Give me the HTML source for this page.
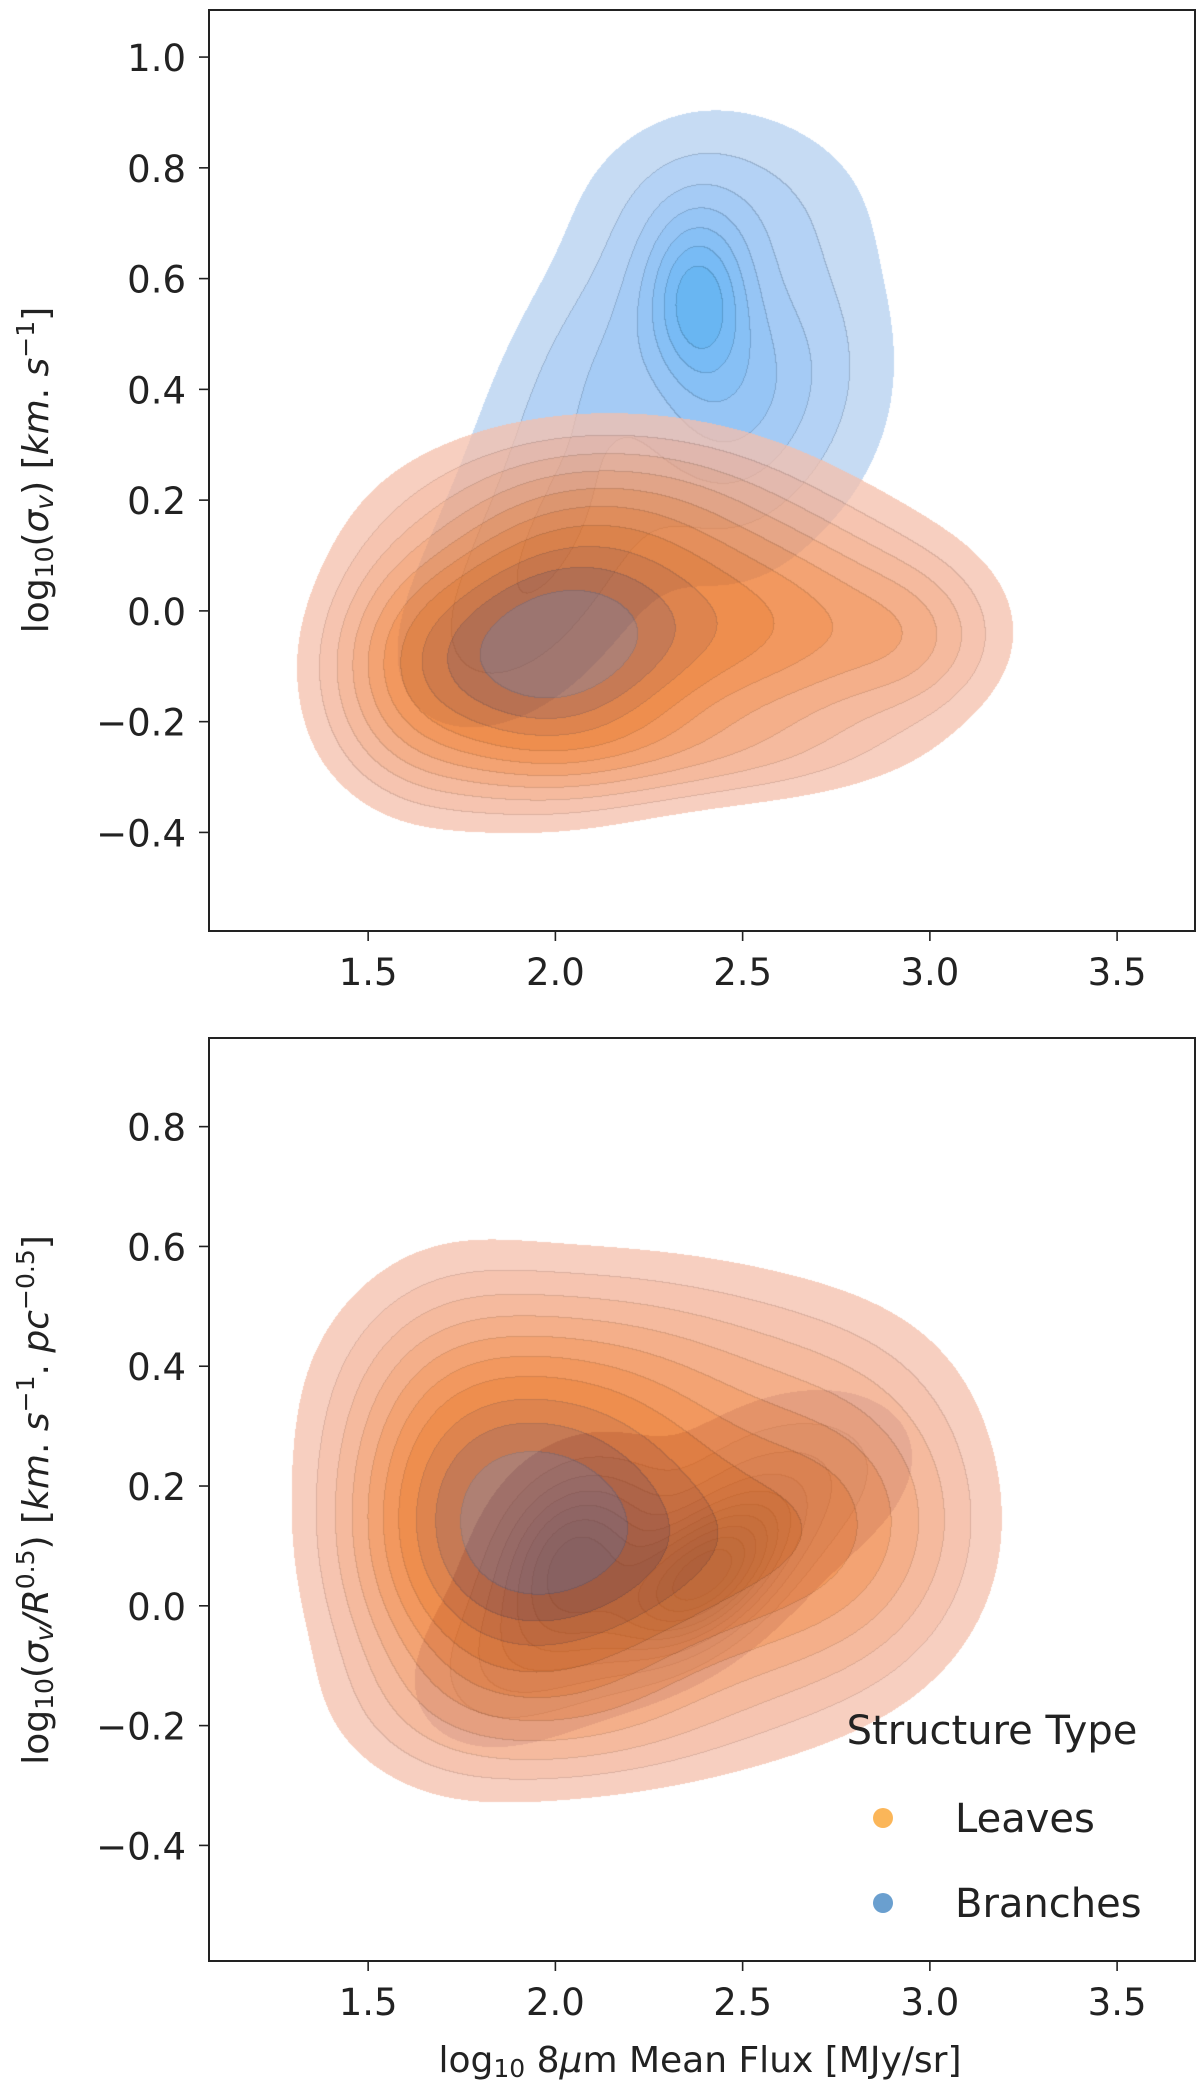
<!DOCTYPE html>
<html><head><meta charset="utf-8">
<style>
html,body{margin:0;padding:0;background:#fff;}
#wrap{position:relative;width:1200px;height:2089px;overflow:hidden;font-family:"DejaVu Sans","Liberation Sans",sans-serif;}
canvas{position:absolute;}
svg{position:absolute;left:0;top:0;}
</style></head>
<body>
<div id="wrap">
<canvas id="c1"></canvas>
<canvas id="c2"></canvas>
<svg id="ov" width="1200" height="2089"></svg>
</div>
<script>
// ---------- data ----------
const xTicks = [1.5, 2.0, 2.5, 3.0, 3.5];
const xTickLabels = ["1.5","2.0","2.5","3.0","3.5"];
const topYTicks = [1.0, 0.8, 0.6, 0.4, 0.2, 0.0, -0.2, -0.4];
const topYTickLabels = ["1.0","0.8","0.6","0.4","0.2","0.0","\u22120.2","\u22120.4"];
const botYTicks = [0.8, 0.6, 0.4, 0.2, 0.0, -0.2, -0.4];
const botYTickLabels = ["0.8","0.6","0.4","0.2","0.0","\u22120.2","\u22120.4"];
const seriesNames = ["Leaves","Branches"];

// KDE mixture components: [cx, cy, sx, sy, rho, weight]
const topLeaves = [[1.98,-0.07,0.25,0.13,0.1,1.0],[2.55,-0.03,0.3,0.12,0.0,0.4],[2.15,0.17,0.32,0.1,0.0,0.22],[2.95,-0.05,0.13,0.08,0.0,0.1],[1.62,-0.1,0.14,0.13,0,0.18],[2.3,-0.25,0.35,0.06,0,0.12]];
const topBranches = [[2.38,0.56,0.09,0.1,0.0,1.0],[2.45,0.38,0.15,0.16,0.0,0.6],[2.0,0.12,0.2,0.15,0.5,0.4],[2.45,0.72,0.2,0.1,0.0,0.3],[2.12,0.45,0.18,0.18,0.6,0.4],[2.65,0.45,0.15,0.15,0,0.3],[1.85,-0.05,0.16,0.1,0.3,0.15]];
const botLeaves = [[1.98,0.13,0.24,0.16,0.0,1.0],[1.72,0.15,0.19,0.2,0.0,0.4],[2.45,0.1,0.3,0.16,0.0,0.5],[2.2,0.38,0.4,0.12,0.0,0.2],[2.0,-0.17,0.3,0.08,0.0,0.15],[2.8,0.16,0.2,0.15,0,0.2]];
const botBranches = [[2.4,0.05,0.14,0.08,0.5,1.0],[2.05,0.08,0.14,0.1,0.2,0.7],[2.6,0.2,0.22,0.1,0.3,0.3],[1.85,-0.1,0.15,0.09,0.2,0.15],[2.1,-0.05,0.25,0.1,0.4,0.2]];

const leavesLevels = [0.04,0.08,0.13,0.19,0.26,0.34,0.43,0.54,0.66,0.8];
const topBranchLevels = [0.05,0.16,0.3,0.44,0.58,0.72,0.86];
const botBranchLevels = [0.07,0.15,0.24,0.33,0.42,0.51,0.6,0.7,0.8,0.9];

// ---------- styles ----------
const leafTargets = [[247,207,192],[246,196,176],[245,186,158],[244,175,138],[243,163,115],[242,152,95],[238,142,78],[222,132,78],[198,122,85],[175,128,115]];
const topBlue = [[198,219,243],[180,210,245],[165,203,245],[150,197,245],[135,192,245],[120,187,245],[105,182,242]];
const botBlue = [[200,198,218],[185,186,212],[170,176,208],[156,166,204],[142,158,200],[128,150,196],[116,143,192],[105,137,190],[96,132,188],[88,128,186]];

const panels = [
 {cv:'c1', left:209, top:10, w:986, h:921, x0:1.075, x1:3.708, y1:1.085, y0:-0.578,
  leaves:topLeaves, branches:topBranches, bl:topBranchLevels, bc:topBlue, la:0.75,
  yt:topYTicks, ytl:topYTickLabels},
 {cv:'c2', left:209, top:1038, w:986, h:923, x0:1.075, x1:3.708, y1:0.948, y0:-0.593,
  leaves:botLeaves, branches:botBranches, bl:botBranchLevels, bc:botBlue, la:0.72,
  yt:botYTicks, ytl:botYTickLabels}
];

function dens(comps,x,y){
  let s=0;
  for(const c of comps){
    const dx=(x-c[0])/c[2], dy=(y-c[1])/c[3], r=c[4];
    const q=(dx*dx-2*r*dx*dy+dy*dy)/(1-r*r);
    s+=c[5]*Math.exp(-0.5*q);
  }
  return s;
}
function levelGrid(comps,levels,P){
  const W=P.w,H=P.h,g=new Float32Array(W*H);let mx=0;
  for(let j=0;j<H;j++){const y=P.y1-(j+0.5)/H*(P.y1-P.y0);
    for(let i=0;i<W;i++){const x=P.x0+(i+0.5)/W*(P.x1-P.x0);const d=dens(comps,x,y);g[j*W+i]=d;if(d>mx)mx=d;}}
  const L=new Uint8Array(W*H);
  for(let k=0;k<W*H;k++){const d=g[k]/mx;let n=0;for(const t of levels){if(d>=t)n++;}L[k]=n;}
  return L;
}
function drawPanel(P){
  const cv=document.getElementById(P.cv);
  cv.width=P.w;cv.height=P.h;cv.style.left=P.left+'px';cv.style.top=P.top+'px';
  const ctx=cv.getContext('2d');const img=ctx.createImageData(P.w,P.h);const D=img.data;
  const LL=levelGrid(P.leaves,leavesLevels,P), BL=levelGrid(P.branches,P.bl,P);
  const a=P.la;
  const leafCols=leafTargets.map(t=>t.map(v=>Math.max(0,Math.min(255,(v-255*(1-a))/a))));
  const W=P.w,H=P.h;
  function edge(L,i,j){const k=j*W+i;const v=L[k];
    if(i>0&&L[k-1]!==v)return Math.max(v,L[k-1]);
    if(j>0&&L[k-W]!==v)return Math.max(v,L[k-W]);return 0;}
  for(let j=0;j<H;j++)for(let i=0;i<W;i++){
    const k=j*W+i;let r=255,g=255,b=255;
    const bl=BL[k];
    if(bl>0){let c=P.bc[bl-1];let f=1;const e=edge(BL,i,j);if(e>1){c=P.bc[e-1];f=0.85;}
      r=c[0]*f;g=c[1]*f;b=c[2]*f;}
    const ll=LL[k];
    if(ll>0){let c=leafCols[ll-1];let f=1;const e=edge(LL,i,j);if(e>1){c=leafCols[e-1];f=0.85;}
      r=a*c[0]*f+(1-a)*r;g=a*c[1]*f+(1-a)*g;b=a*c[2]*f+(1-a)*b;}
    D[k*4]=r;D[k*4+1]=g;D[k*4+2]=b;D[k*4+3]=255;
  }
  ctx.putImageData(img,0,0);
}
const NS='http://www.w3.org/2000/svg';
const ov=document.getElementById('ov');
function el(tag,attrs,txt){const e=document.createElementNS(NS,tag);for(const k in attrs)e.setAttribute(k,attrs[k]);if(txt!=null)e.textContent=txt;ov.appendChild(e);return e;}
panels.forEach((P,pi)=>{
  drawPanel(P);
  const sx=v=>P.left+(v-P.x0)/(P.x1-P.x0)*P.w;
  const sy=v=>P.top+(P.y1-v)/(P.y1-P.y0)*P.h;
  const fr=el('rect',{x:P.left,y:P.top,width:P.w,height:P.h,fill:'none',stroke:'#222','stroke-width':2});
  
  
  xTicks.forEach((v,i)=>{
    const x=sx(v),yb=P.top+P.h;
    const t=el('line',{x1:x,x2:x,y1:yb,y2:yb+10,stroke:'#222','stroke-width':1.6});
    
    
    const l=el('text',{x:x,y:yb+54,'font-size':37,'text-anchor':'middle',fill:'#222'},xTickLabels[i]);
    
    
  });
  P.yt.forEach((v,i)=>{
    const y=sy(v);
    const t=el('line',{x1:P.left-10,x2:P.left,y1:y,y2:y,stroke:'#222','stroke-width':1.6});
    
    
    const l=el('text',{x:P.left-23,y:y+14,'font-size':37,'text-anchor':'end',fill:'#222'},P.ytl[i]);
    
    
  });
});
</script>
<svg width="1200" height="2089" style="position:absolute;left:0;top:0;pointer-events:none" font-family="DejaVu Sans, Liberation Sans, sans-serif">
 <text transform="translate(48,470) rotate(-90)" text-anchor="middle" font-size="36" fill="#222">log<tspan font-size="25" dy="5">10</tspan><tspan dy="-5">(</tspan><tspan font-style="italic">σ</tspan><tspan font-size="25" dy="5" font-style="italic">v</tspan><tspan dy="-5">) [</tspan><tspan font-style="italic">km</tspan>.<tspan font-style="italic"> s</tspan><tspan font-size="25" dy="-14">−1</tspan><tspan dy="14">]</tspan></text>
 <text transform="translate(48,1500) rotate(-90)" text-anchor="middle" font-size="36" fill="#222">log<tspan font-size="25" dy="5">10</tspan><tspan dy="-5">(</tspan><tspan font-style="italic">σ</tspan><tspan font-size="25" dy="5" font-style="italic">v</tspan><tspan dy="-5" font-style="italic">/R</tspan><tspan font-size="25" dy="-14">0.5</tspan><tspan dy="14">) [</tspan><tspan font-style="italic">km</tspan>.<tspan font-style="italic"> s</tspan><tspan font-size="25" dy="-14">−1</tspan><tspan dy="14">.</tspan><tspan font-style="italic"> pc</tspan><tspan font-size="25" dy="-14">−0.5</tspan><tspan dy="14">]</tspan></text>
 <text x="700" y="2072" text-anchor="middle" font-size="36" fill="#222">log<tspan font-size="25" dy="5">10</tspan><tspan dy="-5"> 8</tspan><tspan font-style="italic">μ</tspan>m Mean Flux [MJy/sr]</text>
 <g font-size="40" fill="#222">
  <text x="992" y="1744" text-anchor="middle">Structure Type</text>
  <circle cx="883" cy="1818" r="10" fill="#fbb659"/>
  <text x="955" y="1832">Leaves</text>
  <circle cx="883" cy="1903" r="10" fill="#6a9fcf"/>
  <text x="955" y="1917">Branches</text>
 </g>
</svg>
</body></html>
